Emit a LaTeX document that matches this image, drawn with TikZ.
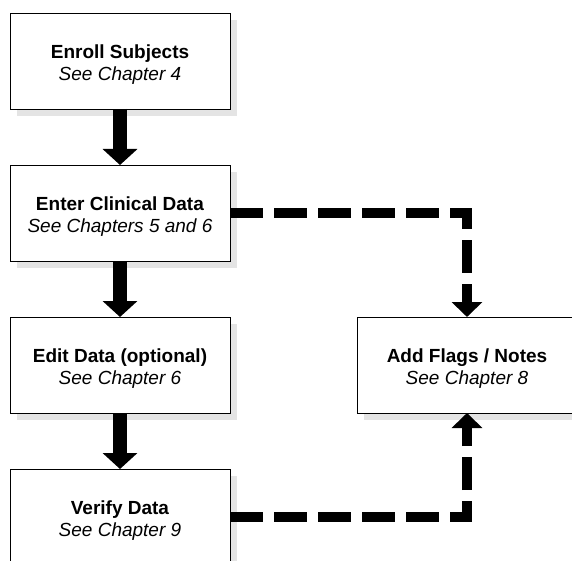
\documentclass[tikz,border=0pt]{standalone}
\usepackage{fontspec}
\setmainfont{Liberation Sans}
\usetikzlibrary{arrows.meta,backgrounds}
\definecolor{shadowgray}{HTML}{E4E4E4}
% first line of each box: a strut lowers the text block slightly
\newcommand{\boxtitle}[1]{\rule{0pt}{20pt}\textbf{#1}}
\begin{document}
\begin{tikzpicture}[x=1pt,y=-1pt,
  stepbox/.style={draw=black, line width=0.9pt, fill=white,
    minimum width=220pt, minimum height=96pt, inner sep=0pt, outer sep=0pt,
    align=center, font=\fontsize{19}{22}\selectfont},
  boxshadow/.style={fill=shadowgray},
  flow/.style={line width=14pt,
    -{Triangle[width=34pt,length=16pt]}},
  optional/.style={line width=10.5pt, dash pattern=on 33pt off 11pt,
    -{Triangle[width=30pt,length=15pt]}}
]
\useasboundingbox (0,0) rectangle (572,561);
\begin{scope}
\clip (0,0) rectangle (572,561);
\node[stepbox] (enroll) at (120,61)
  {\boxtitle{Enroll Subjects}\\\textit{See Chapter 4}};
\node[stepbox] (enter) at (120,213)
  {\boxtitle{Enter Clinical Data}\\\textit{See Chapters 5 and 6}};
\node[stepbox] (edit) at (120,365)
  {\boxtitle{Edit Data (optional)}\\\textit{See Chapter 6}};
\node[stepbox] (verify) at (120,517)
  {\boxtitle{Verify Data}\\\textit{See Chapter 9}};
\node[stepbox] (flags) at (467,365)
  {\boxtitle{Add Flags / Notes}\\\textit{See Chapter 8}};

% drop shadows, offset down and to the right
\begin{scope}[on background layer]
  \foreach \b in {enroll,enter,edit,verify,flags}
    \fill[boxshadow] ([shift={(7,7)}]\b.north west) rectangle ([shift={(7,7)}]\b.south east);
\end{scope}

\draw[flow] (enroll) -- (enter);
\draw[flow] (enter) -- (edit);
\draw[flow] (edit) -- (verify);

\draw[optional] (enter.east) -| (flags.north);
\draw[optional] (verify.east) -| (flags.south);
\end{scope}
\end{tikzpicture}
\end{document}
